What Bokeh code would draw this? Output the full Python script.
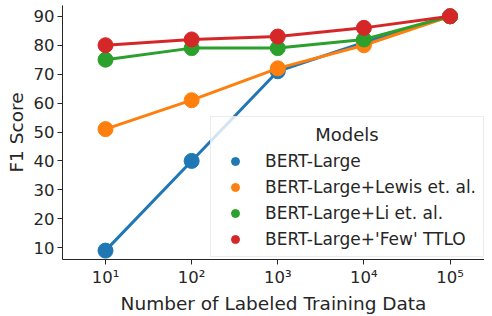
from bokeh.plotting import figure
from bokeh.models import Range1d, FixedTicker, Legend, LegendItem
from bokeh.embed import file_html
from bokeh.resources import INLINE

x_vals = [10, 100, 1000, 10000, 100000]
x_tick_labels = ["10\u00b9", "10\u00b2", "10\u00b3", "10\u2074", "10\u2075"]
series_names = ["BERT-Large", "BERT-Large+Lewis et. al.", "BERT-Large+Li et. al.", "BERT-Large+'Few' TTLO"]
bert_large = [9, 40, 71, 81, 90]
lewis = [51, 61, 72, 80, 90]
li = [75, 79, 79, 82, 90]
few_ttlo = [80, 82, 83, 86, 90]
colors = ["#1f77b4", "#ff7f0e", "#2ca02c", "#d62728"]
y_ticks = [10, 20, 30, 40, 50, 60, 70, 80, 90]

FONT = "DejaVu Sans"
TXT = "#262626"

p = figure(width=484, height=316, x_axis_type="log",
           x_range=Range1d(10**0.5006, 10**5.4), y_range=Range1d(5.93, 93.73),
           output_backend="svg", toolbar_location=None,
           min_border_top=5, min_border_left=62, min_border_right=0, min_border_bottom=52)
p.outline_line_color = None
p.xgrid.visible = False
p.ygrid.visible = False

for ax in (p.xaxis[0], p.yaxis[0]):
    ax.axis_line_color = "#262626"
    ax.axis_line_width = 1
    ax.major_tick_line_color = "#262626"
    ax.major_tick_out = 5
    ax.major_tick_in = 0
    ax.minor_tick_line_color = None
    ax.major_label_text_font = FONT
    ax.major_label_text_font_size = "16.5px"
    ax.major_label_text_color = TXT
    ax.axis_label_text_font = FONT
    ax.axis_label_text_font_size = "18.5px"
    ax.axis_label_text_font_style = "normal"
    ax.axis_label_text_color = TXT

p.xaxis.ticker = FixedTicker(ticks=x_vals)
p.xaxis.major_label_overrides = dict(zip(x_vals, x_tick_labels))
p.xaxis.major_label_standoff = 3
p.xaxis.axis_label_standoff = 3
p.xaxis.axis_label = "Number of Labeled Training Data"
p.yaxis.ticker = FixedTicker(ticks=y_ticks)
p.yaxis.major_label_standoff = 3
p.yaxis.axis_label_standoff = 4
p.yaxis.axis_label = "F1 Score"

all_series = [bert_large, lewis, li, few_ttlo]
items = []
for name, ys, c in zip(series_names, all_series, colors):
    p.line(x_vals, ys, line_color=c, line_width=3)
    p.scatter(x_vals, ys, size=15, fill_color=c, line_color=c)
    dummy = p.scatter([0.001], [-1000], size=8, fill_color=c, line_color=c)
    items.append(LegendItem(label=name, renderers=[dummy]))

legend = Legend(items=items, location=(148, 2),
                title="\u00a0" * 17 + "Models", title_text_font=FONT,
                title_text_font_size="18px", title_text_color=TXT,
                title_text_font_style="normal", title_standoff=6,
                label_text_font=FONT, label_text_font_size="17px", label_text_color=TXT,
                glyph_width=34, glyph_height=20, label_height=20, label_standoff=13,
                spacing=6, padding=7, margin=0,
                border_line_color="#d9d9d9", border_line_width=1,
                background_fill_color="white", background_fill_alpha=0.8)
p.add_layout(legend, "center")

open("out.html", "w").write(file_html(p, INLINE))
